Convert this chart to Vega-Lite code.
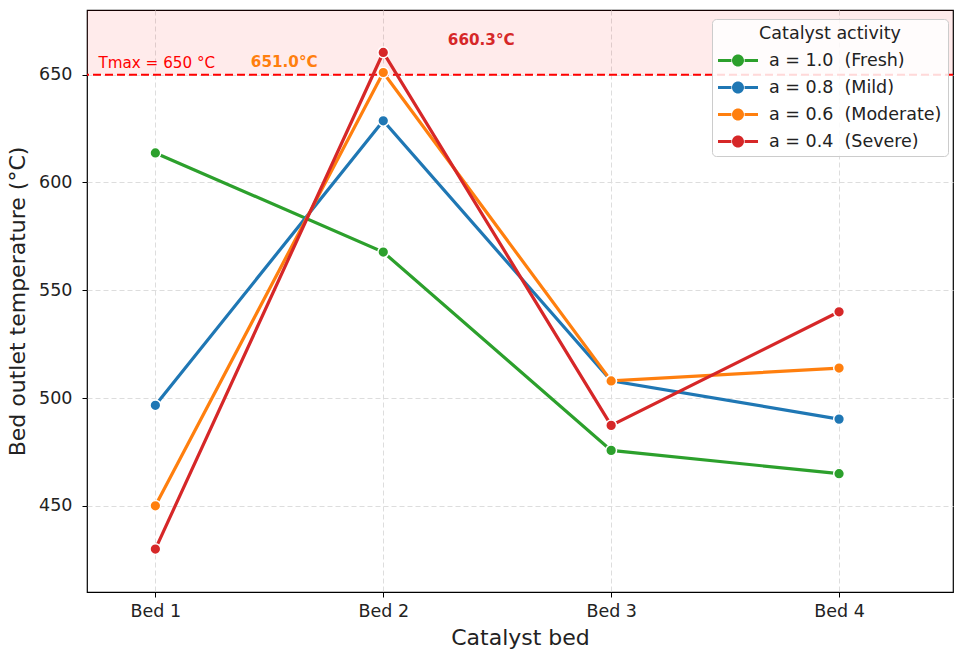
{
  "$schema": "https://vega.github.io/schema/vega-lite/v6.json",
  "width": 866,
  "height": 582,
  "autosize": {"type": "none"},
  "padding": {"left": 87, "top": 10, "right": 11, "bottom": 68},
  "background": "white",
  "config": {
    "font": "DejaVu Sans",
    "view": {"stroke": "black", "strokeWidth": 1.2},
    "axis": {
      "labelFont": "DejaVu Sans",
      "titleFont": "DejaVu Sans",
      "labelFontSize": 17.5,
      "titleFontSize": 22,
      "titleFontWeight": "normal",
      "labelColor": "#222222",
      "titleColor": "#222222",
      "tickColor": "black",
      "tickSize": 5,
      "domain": false,
      "grid": true,
      "gridColor": "#dddddd",
      "gridDash": [5, 3],
      "gridWidth": 1
    }
  },
  "data": {
    "values": [
      {"bed": 1, "activity": "a = 1.0  (Fresh)", "temp": 613.7},
      {"bed": 2, "activity": "a = 1.0  (Fresh)", "temp": 567.7},
      {"bed": 3, "activity": "a = 1.0  (Fresh)", "temp": 475.7},
      {"bed": 4, "activity": "a = 1.0  (Fresh)", "temp": 464.9},
      {"bed": 1, "activity": "a = 0.8  (Mild)", "temp": 496.6},
      {"bed": 2, "activity": "a = 0.8  (Mild)", "temp": 628.6},
      {"bed": 3, "activity": "a = 0.8  (Mild)", "temp": 508.0},
      {"bed": 4, "activity": "a = 0.8  (Mild)", "temp": 490.2},
      {"bed": 1, "activity": "a = 0.6  (Moderate)", "temp": 450.0},
      {"bed": 2, "activity": "a = 0.6  (Moderate)", "temp": 651.0},
      {"bed": 3, "activity": "a = 0.6  (Moderate)", "temp": 507.9},
      {"bed": 4, "activity": "a = 0.6  (Moderate)", "temp": 513.9},
      {"bed": 1, "activity": "a = 0.4  (Severe)", "temp": 429.9},
      {"bed": 2, "activity": "a = 0.4  (Severe)", "temp": 660.3},
      {"bed": 3, "activity": "a = 0.4  (Severe)", "temp": 487.3},
      {"bed": 4, "activity": "a = 0.4  (Severe)", "temp": 540.0}
    ]
  },
  "layer": [
    {
      "data": {"values": [{"lo": 650, "hi": 680}]},
      "mark": {"type": "rect", "color": "#ff0000", "opacity": 0.08},
      "encoding": {
        "y": {"field": "lo", "type": "quantitative", "scale": {"domain": [410, 680], "nice": false, "zero": false}},
        "y2": {"field": "hi"}
      }
    },
    {
      "data": {"values": [{"limit": 650}]},
      "mark": {"type": "rule", "color": "#ff0000", "strokeWidth": 2, "strokeDash": [8, 4]},
      "encoding": {
        "y": {"field": "limit", "type": "quantitative"}
      }
    },
    {
      "data": {"values": [{"limit": 650, "xpos": 0.75, "label": "Tmax = 650 °C"}]},
      "mark": {"type": "text", "color": "#ff0000", "fontSize": 15.2, "align": "left", "baseline": "alphabetic", "dy": -7},
      "encoding": {
        "x": {"field": "xpos", "type": "quantitative"},
        "y": {"field": "limit", "type": "quantitative"},
        "text": {"field": "label"}
      }
    },
    {
      "mark": {"type": "line", "strokeWidth": 3.2},
      "encoding": {
        "x": {
          "field": "bed",
          "type": "quantitative",
          "scale": {"domain": [0.7, 4.5], "nice": false, "zero": false},
          "axis": {
            "title": "Catalyst bed",
            "values": [1, 2, 3, 4],
            "labelExpr": "'Bed ' + datum.value",
            "labelPadding": 5,
            "titlePadding": 8
          }
        },
        "y": {
          "field": "temp",
          "type": "quantitative",
          "axis": {
            "title": "Bed outlet temperature (°C)",
            "values": [450, 500, 550, 600, 650],
            "labelPadding": 10,
            "titlePadding": 9
          }
        },
        "color": {
          "field": "activity",
          "type": "nominal",
          "scale": {
            "domain": ["a = 1.0  (Fresh)", "a = 0.8  (Mild)", "a = 0.6  (Moderate)", "a = 0.4  (Severe)"],
            "range": ["#2ca02c", "#1f77b4", "#ff7f0e", "#d62728"]
          },
          "legend": {
            "title": "Catalyst activity",
            "orient": "none",
            "legendX": 625,
            "legendY": 9,
            "padding": 6,
            "fillColor": "rgba(255,255,255,0.85)",
            "strokeColor": "#cccccc",
            "cornerRadius": 4,
            "titleFontSize": 17.5,
            "titleFontWeight": "normal",
            "titleColor": "#222222",
            "titleAnchor": "middle",
            "titlePadding": 8,
            "labelFontSize": 17.5,
            "labelColor": "#222222",
            "labelLimit": 400,
            "symbolType": "M-1,-0.16 L0.34,-0.16 L0.34,0.16 L-1,0.16 Z M1.66,-0.16 L3,-0.16 L3,0.16 L1.66,0.16 Z M1.6,0 A0.6,0.6 0 1,1 0.4,0 A0.6,0.6 0 1,1 1.6,0 Z",
            "symbolSize": 400,
            "symbolOpacity": 1,
            "labelOffset": 31,
            "rowPadding": 8,
            "encode": {
              "symbols": {
                "update": {
                  "fill": {"scale": "color", "field": "value"},
                  "stroke": {"value": "transparent"},
                  "strokeWidth": {"value": 0}
                }
              },
              "labels": {
                "update": {
                  "text": {"signal": "replace(datum.label, '  ', '\u00a0 ')"}
                }
              }
            }
          }
        }
      }
    },
    {
      "mark": {"type": "point", "filled": true, "size": 115, "opacity": 1, "stroke": "white", "strokeWidth": 1.5},
      "encoding": {
        "x": {"field": "bed", "type": "quantitative"},
        "y": {"field": "temp", "type": "quantitative"},
        "fill": {"field": "activity", "type": "nominal", "legend": null, "scale": {"domain": ["a = 1.0  (Fresh)", "a = 0.8  (Mild)", "a = 0.6  (Moderate)", "a = 0.4  (Severe)"], "range": ["#2ca02c", "#1f77b4", "#ff7f0e", "#d62728"]}}
      }
    },
    {
      "transform": [
        {"filter": "datum.bed == 2 && datum.activity == 'a = 0.6  (Moderate)'"},
        {"calculate": "format(datum.temp, '.1f') + '°C'", "as": "note"}
      ],
      "mark": {"type": "text", "color": "#ff7f0e", "fontSize": 15.2, "fontWeight": "bold", "align": "center", "baseline": "middle", "dx": -99, "dy": -11},
      "encoding": {
        "x": {"field": "bed", "type": "quantitative"},
        "y": {"field": "temp", "type": "quantitative"},
        "text": {"field": "note"}
      }
    },
    {
      "transform": [
        {"filter": "datum.bed == 2 && datum.activity == 'a = 0.4  (Severe)'"},
        {"calculate": "format(datum.temp, '.1f') + '°C'", "as": "note"}
      ],
      "mark": {"type": "text", "color": "#d62728", "fontSize": 15.2, "fontWeight": "bold", "align": "center", "baseline": "middle", "dx": 98, "dy": -12},
      "encoding": {
        "x": {"field": "bed", "type": "quantitative"},
        "y": {"field": "temp", "type": "quantitative"},
        "text": {"field": "note"}
      }
    }
  ]
}
